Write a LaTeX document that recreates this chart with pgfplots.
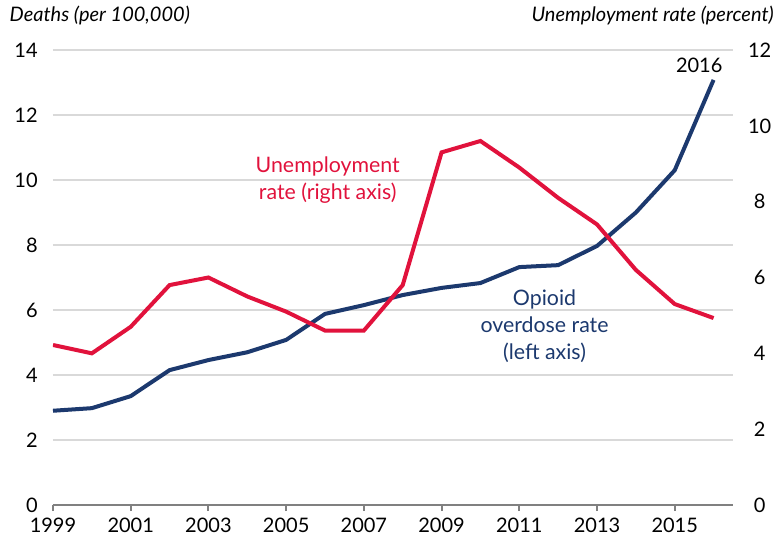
\documentclass[border=0pt]{standalone}
\usepackage{fontspec}
\setmainfont{Lato}
\usepackage{pgfplots}
\pgfplotsset{compat=1.18}
\definecolor{navy}{RGB}{28,57,110}
\definecolor{crim}{RGB}{225,18,60}
\definecolor{gridc}{RGB}{217,217,217}
\definecolor{axc}{RGB}{128,128,128}
\begin{document}
\begin{tikzpicture}
\pgfplotsset{
  every axis/.append style={
    width=510pt, height=341.25pt, scale only axis,
    xmin=1999, xmax=2016.5,
    font=\fontsize{15}{18}\selectfont,
    /pgf/number format/assume math mode=true,
  }
}
\begin{axis}[
  ymin=0, ymax=14,
  ytick={0,2,...,14},
  xtick={1999,2001,...,2015},
  xticklabel style={/pgf/number format/1000 sep={}},
  axis x line*=bottom,
  axis y line*=left,
  y axis line style={draw=none},
  x axis line style={draw=axc, line width=1.5pt},
  ymajorgrids, grid style={gridc, line width=1.5pt},
  ytick style={draw=none},
  xtick style={draw=axc, line width=1.5pt},
  xtick align=outside,
  major tick length=4.5pt,
  yticklabel style={xshift=-8pt},
  xticklabel style={yshift=-2pt},
  clip=false,
]
\addplot[navy, line width=3pt] coordinates {
(1999,2.9) (2000,2.98) (2001,3.35) (2002,4.15) (2003,4.46) (2004,4.7) (2005,5.08) (2006,5.88) (2007,6.15) (2008,6.46) (2009,6.68) (2010,6.83) (2011,7.32) (2012,7.38) (2013,7.97) (2014,9.0) (2015,10.3) (2016,13.08)
};
\node[crim, align=center, font=\fontsize{16}{20.5}\selectfont] at (axis cs:2006.07,10.0) {Unemployment\\rate (right axis)};
\node[navy, align=center, font=\fontsize{16}{20.5}\selectfont] at (axis cs:2011.65,5.5) {Opioid\\overdose rate\\(left axis)};
\node[font=\fontsize{15}{18}\selectfont] at (axis cs:2015.63,13.54) {2016};
\node[anchor=base west, font=\itshape\fontsize{15}{18}\selectfont] at ([xshift=-36pt,yshift=21pt]rel axis cs:0,1) {Deaths (per 100,000)};
\node[anchor=base east, font=\itshape\fontsize{15}{18}\selectfont] at ([xshift=34pt,yshift=21pt]rel axis cs:1,1) {Unemployment rate (percent)};
\coordinate (BL) at ([xshift=-39.75pt,yshift=-31.5pt]rel axis cs:0,0);
\coordinate (TR) at ([xshift=38.25pt,yshift=37.5pt]rel axis cs:1,1);
\end{axis}
\begin{axis}[
  ymin=0, ymax=12,
  ytick={0,2,...,12},
  axis x line=none,
  axis y line*=right,
  y axis line style={draw=none},
  ytick style={draw=none},
  yticklabel style={xshift=8pt, anchor=center, xshift=12pt},
]
\addplot[crim, line width=3pt] coordinates {
(1999,4.22) (2000,4.0) (2001,4.7) (2002,5.8) (2003,6.0) (2004,5.5) (2005,5.1) (2006,4.6) (2007,4.6) (2008,5.8) (2009,9.3) (2010,9.6) (2011,8.9) (2012,8.1) (2013,7.4) (2014,6.2) (2015,5.3) (2016,4.93)
};
\end{axis}
\pgfresetboundingbox
\path[use as bounding box] (BL) rectangle (TR);
\end{tikzpicture}
\end{document}
